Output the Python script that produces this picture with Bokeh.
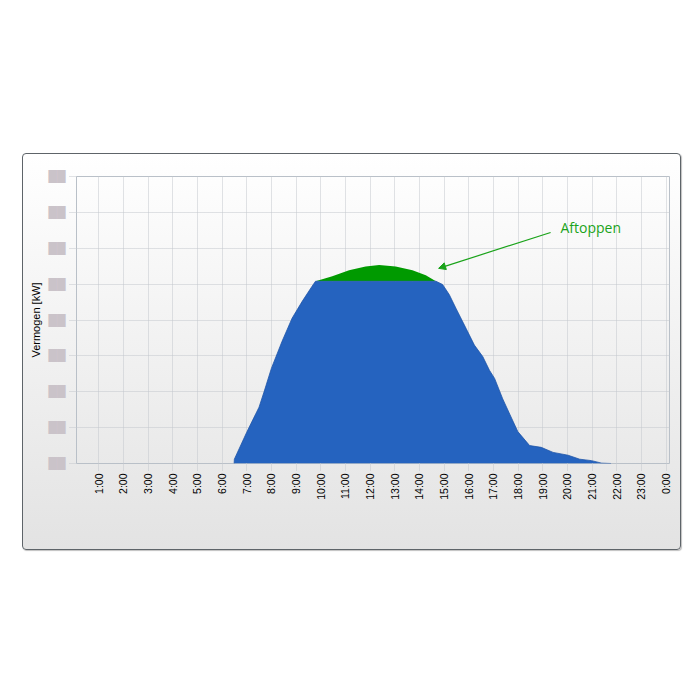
import math
import numpy as np
from bokeh.plotting import figure
from bokeh.models import (ColumnDataSource, FixedTicker, Arrow, NormalHead, Label, Spacer)
from bokeh.layouts import column, row
from bokeh.embed import file_html
from bokeh.resources import INLINE

# ---- data ----
hours = [6.49, 6.5, 7.0, 7.5, 7.7, 8.0, 8.43, 8.84, 9.25, 9.65, 9.79, 10.47, 11.15,
         11.82, 12.37, 13.04, 13.72, 14.26, 14.67, 14.94, 15.21, 15.48, 15.89, 16.23,
         16.57, 16.84, 17.05, 17.38, 17.66, 17.99, 18.47, 18.94, 19.42, 20.03, 20.5,
         20.98, 21.39, 21.77]
power = [0.0, 0.12, 0.87, 1.57, 1.99, 2.65, 3.40, 4.05, 4.52, 4.94, 5.08, 5.22, 5.39,
         5.49, 5.53, 5.49, 5.39, 5.25, 5.08, 4.99, 4.71, 4.33, 3.77, 3.30,
         2.98, 2.60, 2.37, 1.80, 1.38, 0.89, 0.50, 0.45, 0.31, 0.23, 0.12,
         0.08, 0.01, 0.0]
cap = 5.08
x_ticks = list(range(1, 25))
x_labels = ["%d:00" % (h % 24) for h in x_ticks]
y_ticks = list(range(0, 9))
y_labels = ["██"] * len(y_ticks)
annot_text = "Aftoppen"
annot_xy = (19.72, 6.58)
arrow_start = (19.32, 6.44)
arrow_end = (14.78, 5.44)

BLUE = "#2563bf"
GREEN = "#009a00"
ANN = "#1aa31a"

pw = np.array(power)
blue_top = np.minimum(pw, cap)
green_bottom = np.where(pw > cap, cap, pw)
src = ColumnDataSource(dict(x=hours, p=pw, b=blue_top, g=green_bottom, z=np.zeros(len(pw))))

p = figure(frame_width=591, frame_height=285, x_range=(0.1, 24.14), y_range=(0, 8),
           output_backend="svg", toolbar_location=None,
           min_border_left=53, min_border_right=13, min_border_top=22, min_border_bottom=88)
p.border_fill_color = None
p.background_fill_color = None
p.outline_line_color = "#b9c0c8"
p.styles = {"background": "linear-gradient(#ffffff, #e3e3e3)",
            "border": "1px solid #5e6469", "border-radius": "4px",
            "box-shadow": "1px 1px 1px rgba(0,0,0,0.25)"}

p.varea(x="x", y1="g", y2="p", source=src, fill_color=GREEN)
p.varea(x="x", y1="z", y2="b", source=src, fill_color=BLUE)
p.line(x="x", y="b", source=src, line_color="#1f55a8", line_width=0.8)

GRID = "#c2c6cc"
for ax in (p.xaxis[0], p.yaxis[0]):
    ax.axis_line_color = None
    ax.major_tick_in = 0
    ax.major_tick_out = 7
    ax.major_tick_line_color = GRID
    ax.major_tick_line_dash = "1 1"
    ax.minor_tick_line_color = None
    ax.major_label_text_font = "Liberation Sans"
    ax.major_label_text_color = "#000000"

p.xaxis.ticker = FixedTicker(ticks=x_ticks)
p.xaxis.major_label_overrides = {t: l for t, l in zip(x_ticks, x_labels)}
p.xaxis.major_label_orientation = math.pi / 2
p.xaxis.major_label_text_font_size = "10.5px"
p.xaxis.major_label_standoff = 3

p.yaxis.ticker = FixedTicker(ticks=y_ticks)
p.yaxis.major_label_overrides = {t: l for t, l in zip(y_ticks, y_labels)}
p.yaxis.major_label_text_font = "DejaVu Sans"
p.yaxis.major_label_text_font_size = "11px"
p.yaxis.major_label_text_color = "#cac3c9"
p.yaxis.major_label_standoff = 4
p.yaxis.axis_label = "Vermogen [kW]"
p.yaxis.axis_label_text_font = "Liberation Sans"
p.yaxis.axis_label_text_font_size = "11px"
p.yaxis.axis_label_text_font_style = "normal"
p.yaxis.axis_label_text_color = "#000000"
p.yaxis.axis_label_standoff = 4

p.xgrid.ticker = FixedTicker(ticks=x_ticks)
p.ygrid.ticker = FixedTicker(ticks=y_ticks[1:-1])
for g in (p.xgrid[0], p.ygrid[0]):
    g.grid_line_color = GRID
    g.grid_line_dash = "1 1"
    g.grid_line_width = 1

p.add_layout(Arrow(end=NormalHead(size=7, fill_color=ANN, line_color=ANN, line_width=1),
                   x_start=arrow_start[0], y_start=arrow_start[1],
                   x_end=arrow_end[0], y_end=arrow_end[1],
                   line_color=ANN, line_width=1.2))
p.add_layout(Label(x=annot_xy[0], y=annot_xy[1], text=annot_text, text_color=ANN,
                   text_font="Open Sans", text_font_size="14px", text_baseline="alphabetic"))

layout = column(Spacer(height=153), row(Spacer(width=22), p))
open("out.html", "w").write(file_html(layout, INLINE))
